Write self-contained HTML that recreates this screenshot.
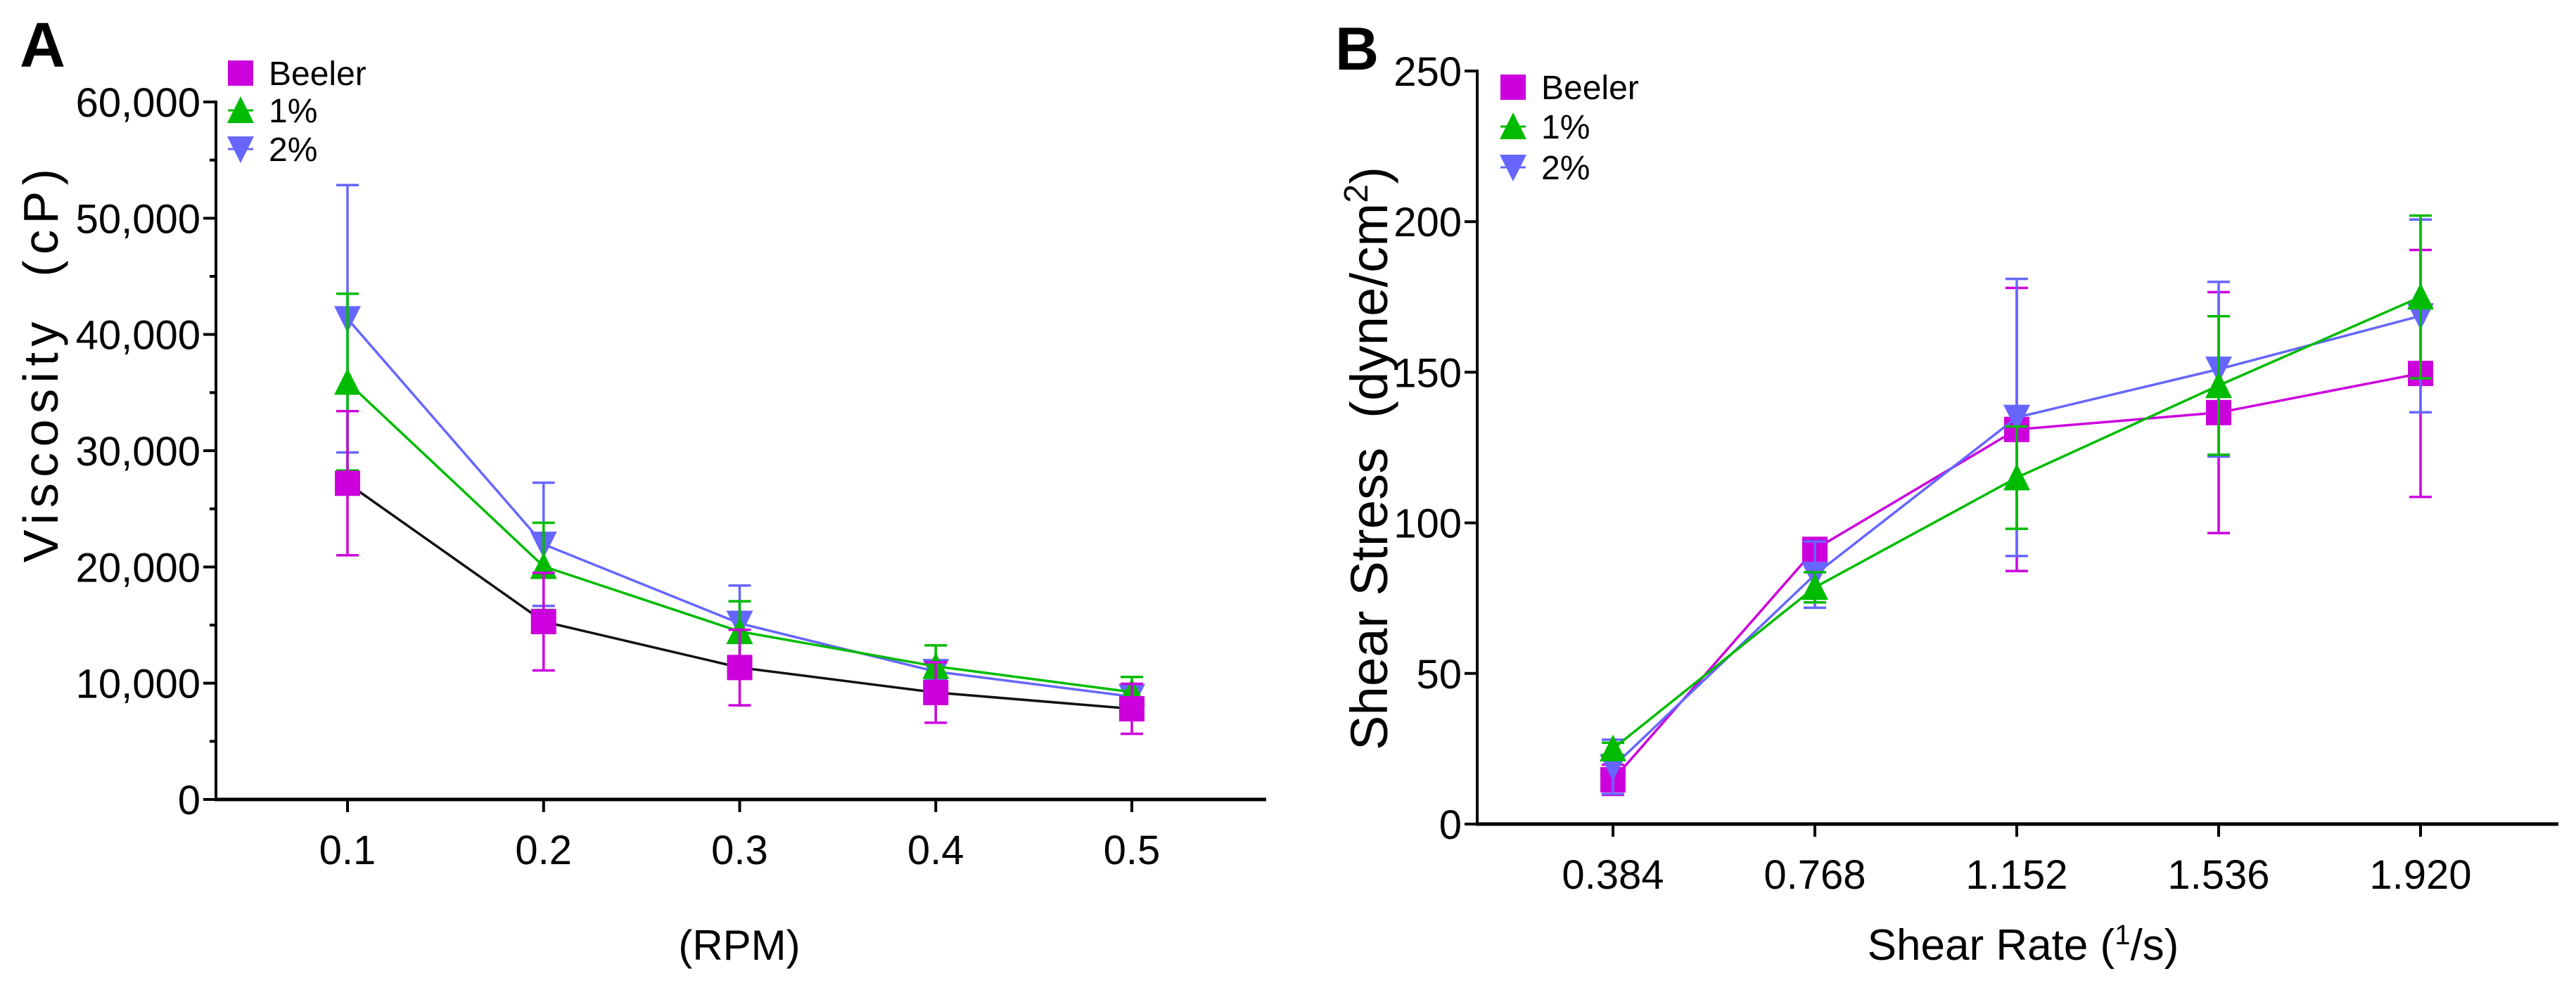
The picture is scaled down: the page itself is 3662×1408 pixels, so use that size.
<!DOCTYPE html>
<html><head><meta charset="utf-8">
<style>
html,body{margin:0;padding:0;background:#fff;}
svg{display:block;font-family:"Liberation Sans",sans-serif;}
</style></head>
<body>
<svg id="fig" width="3662" height="1408" viewBox="0 0 3662 1408" xmlns="http://www.w3.org/2000/svg">
<g id="pa"></g>
<g id="pb"></g>
</svg>
<script>
// Panel A data
const aCats = ["0.1","0.2","0.3","0.4","0.5"];
const aBeeler = [27200,15300,11350,9200,7800];
const aBeelerSd = [6200,4200,3250,2600,2150];
const a1 = [35900,20050,14450,11450,9240];
const a1Sd = [7600,3750,2600,1800,1300];
const a2 = [41350,21950,15150,11000,8850];
const a2Sd = [11500,5300,3250,750,800];
const aTicks = ["0","10,000","20,000","30,000","40,000","50,000","60,000"];
const aTickVals = [0,10000,20000,30000,40000,50000,60000];
// Panel B data
const bCats = ["0.384","0.768","1.152","1.536","1.920"];
const bBeeler = [14.7,91.2,131,136.6,149.6];
const bBeelerSd = [5,3,47,40,41];
const b1 = [25,78.6,115,145.6,175];
const b1Sd = [2,5,17,23,27];
const b2 = [19,82.8,135,151,168.7];
const b2Sd = [9,11,46,29,32];
const bTicks = ["0","50","100","150","200","250"];
const bTickVals = [0,50,100,150,200,250];

const NS="http://www.w3.org/2000/svg";
const MAG="#cc00dd", GRN="#00bb00", BLU="#6666ff";
function mk(parent,tag,attrs,text){
  const e=document.createElementNS(NS,tag);
  for(const k in attrs) e.setAttribute(k,attrs[k]);
  if(text!==undefined) e.textContent=text;
  parent.appendChild(e); return e;
}
function marker(g,shape,x,y,color){
  const s=18; let m;
  if(shape==="sq") m=mk(g,"rect",{x:x-s,y:y-s,width:2*s,height:2*s,fill:color});
  else if(shape==="up") m=mk(g,"polygon",{points:`${x},${y-s-2} ${x+s+1},${y+s} ${x-s-1},${y+s}`,fill:color});
  else m=mk(g,"polygon",{points:`${x},${y+s+2} ${x+s+1},${y-s} ${x-s-1},${y-s}`,fill:color});
  return m;
}
function drawPanel(g,cfg){
  const X=i=>cfg.x0+i*cfg.step;
  const Y=v=>cfg.yBot-(v-cfg.vmin)/(cfg.vmax-cfg.vmin)*(cfg.yBot-cfg.yTop);
  const ya=mk(g,"line",{x1:cfg.ax,y1:cfg.yTop-2,x2:cfg.ax,y2:cfg.yBot+2,stroke:"#000","stroke-width":4});
  
  
  const xa=mk(g,"line",{x1:cfg.ax-2,y1:cfg.yBot,x2:cfg.axEnd,y2:cfg.yBot,stroke:"#000","stroke-width":5});
  
  
  cfg.tickVals.forEach((v,i)=>{
    const y=Y(v);
    mk(g,"line",{x1:cfg.ax-18,y1:y,x2:cfg.ax,y2:y,stroke:"#000","stroke-width":4});
    const t=mk(g,"text",{x:cfg.ax-22,y:y+21,"font-size":58,"text-anchor":"end"},cfg.ticks[i]);
    
    
    if(cfg.minor && i<cfg.tickVals.length-1){
      const ym=Y(v+(cfg.tickVals[1]-cfg.tickVals[0])/2);
      mk(g,"line",{x1:cfg.ax-9,y1:ym,x2:cfg.ax,y2:ym,stroke:"#000","stroke-width":4});
    }
  });
  cfg.cats.forEach((c,i)=>{
    mk(g,"line",{x1:X(i),y1:cfg.yBot,x2:X(i),y2:cfg.yBot+18,stroke:"#000","stroke-width":4});
    const t=mk(g,"text",{x:X(i),y:cfg.yBot+92,"font-size":58,"text-anchor":"middle"},c);
    
    
  });
  cfg.series.forEach(s=>{
    const sg=mk(g,"g",{});
    
    
    const pts=s.vals.map((v,i)=>X(i)+","+Y(v)).join(" ");
    mk(sg,"polyline",{points:pts,fill:"none",stroke:s.line,"stroke-width":3.5});
    s.vals.forEach((v,i)=>{
      const x=X(i), hi=Y(v+s.sd[i]), lo=Y(v-s.sd[i]);
      const eb=mk(sg,"path",{d:`M${x},${hi}V${lo}M${x-16},${hi}H${x+16}M${x-16},${lo}H${x+16}`,stroke:s.color,"stroke-width":3.5,fill:"none"});
      
      
    });
    s.vals.forEach((v,i)=>{
      const m=marker(sg,s.shape,X(i),Y(v),s.color);
      
      
    });
  });
  const lg=mk(g,"g",{});
  
  
  const names=["Beeler","1%","2%"], shapes=["sq","up","down"], cols=[MAG,GRN,BLU];
  names.forEach((n,i)=>{
    const y=cfg.legY[i];
    mk(lg,"line",{x1:cfg.legX-18,y1:y,x2:cfg.legX+18,y2:y,stroke:cols[i],"stroke-width":3});
    marker(lg,shapes[i],cfg.legX,y,cols[i]);
    const t=mk(lg,"text",{x:cfg.legX+40,y:y+17,"font-size":48},n);
    
    
  });
  return {X,Y};
}
const pa=document.getElementById("pa");
drawPanel(pa,{x0:494,step:278.75,ax:307,axEnd:1800,yTop:145,yBot:1137,vmin:0,vmax:60000,
  tickVals:aTickVals,ticks:aTicks,minor:true,cats:aCats,legX:342,legY:[104,157,212],
  series:[
    {name:"2-percent",vals:a2,sd:a2Sd,color:BLU,line:BLU,shape:"down"},
    {name:"1-percent",vals:a1,sd:a1Sd,color:GRN,line:GRN,shape:"up"},
    {name:"beeler",vals:aBeeler,sd:aBeelerSd,color:MAG,line:"#111",shape:"sq"}]});
const pb=document.getElementById("pb");
drawPanel(pb,{x0:2293,step:287,ax:2100,axEnd:3637,yTop:101,yBot:1172,vmin:0,vmax:250,
  tickVals:bTickVals,ticks:bTicks,minor:false,cats:bCats,legX:2151,legY:[124,180,238],
  series:[
    {name:"beeler",vals:bBeeler,sd:bBeelerSd,color:MAG,line:MAG,shape:"sq"},
    {name:"2-percent",vals:b2,sd:b2Sd,color:BLU,line:BLU,shape:"down"},
    {name:"1-percent",vals:b1,sd:b1Sd,color:GRN,line:GRN,shape:"up"}]});
</script>
<svg style="position:absolute;left:0;top:0" width="3662" height="1408" xmlns="http://www.w3.org/2000/svg" font-family="Liberation Sans, sans-serif">
<text x="28" y="95" font-size="90" font-weight="bold">A</text>
<text x="1898" y="99" font-size="86" font-weight="bold">B</text>
<text transform="translate(82,520) rotate(-90)" font-size="70" text-anchor="middle" textLength="560" xml:space="preserve">Viscosity  (cP)</text>
<text x="1051" y="1365" font-size="60" text-anchor="middle">(RPM)</text>
<text transform="translate(1972,652) rotate(-90)" font-size="74" text-anchor="middle" textLength="830" xml:space="preserve">Shear Stress  (dyne/cm<tspan dy="-28" font-size="48">2</tspan><tspan dy="28">)</tspan></text>
<text x="2876" y="1365" font-size="62" text-anchor="middle">Shear Rate (<tspan dy="-22" font-size="40">1</tspan><tspan dy="22">/s)</tspan></text>
</svg>
</body></html>
